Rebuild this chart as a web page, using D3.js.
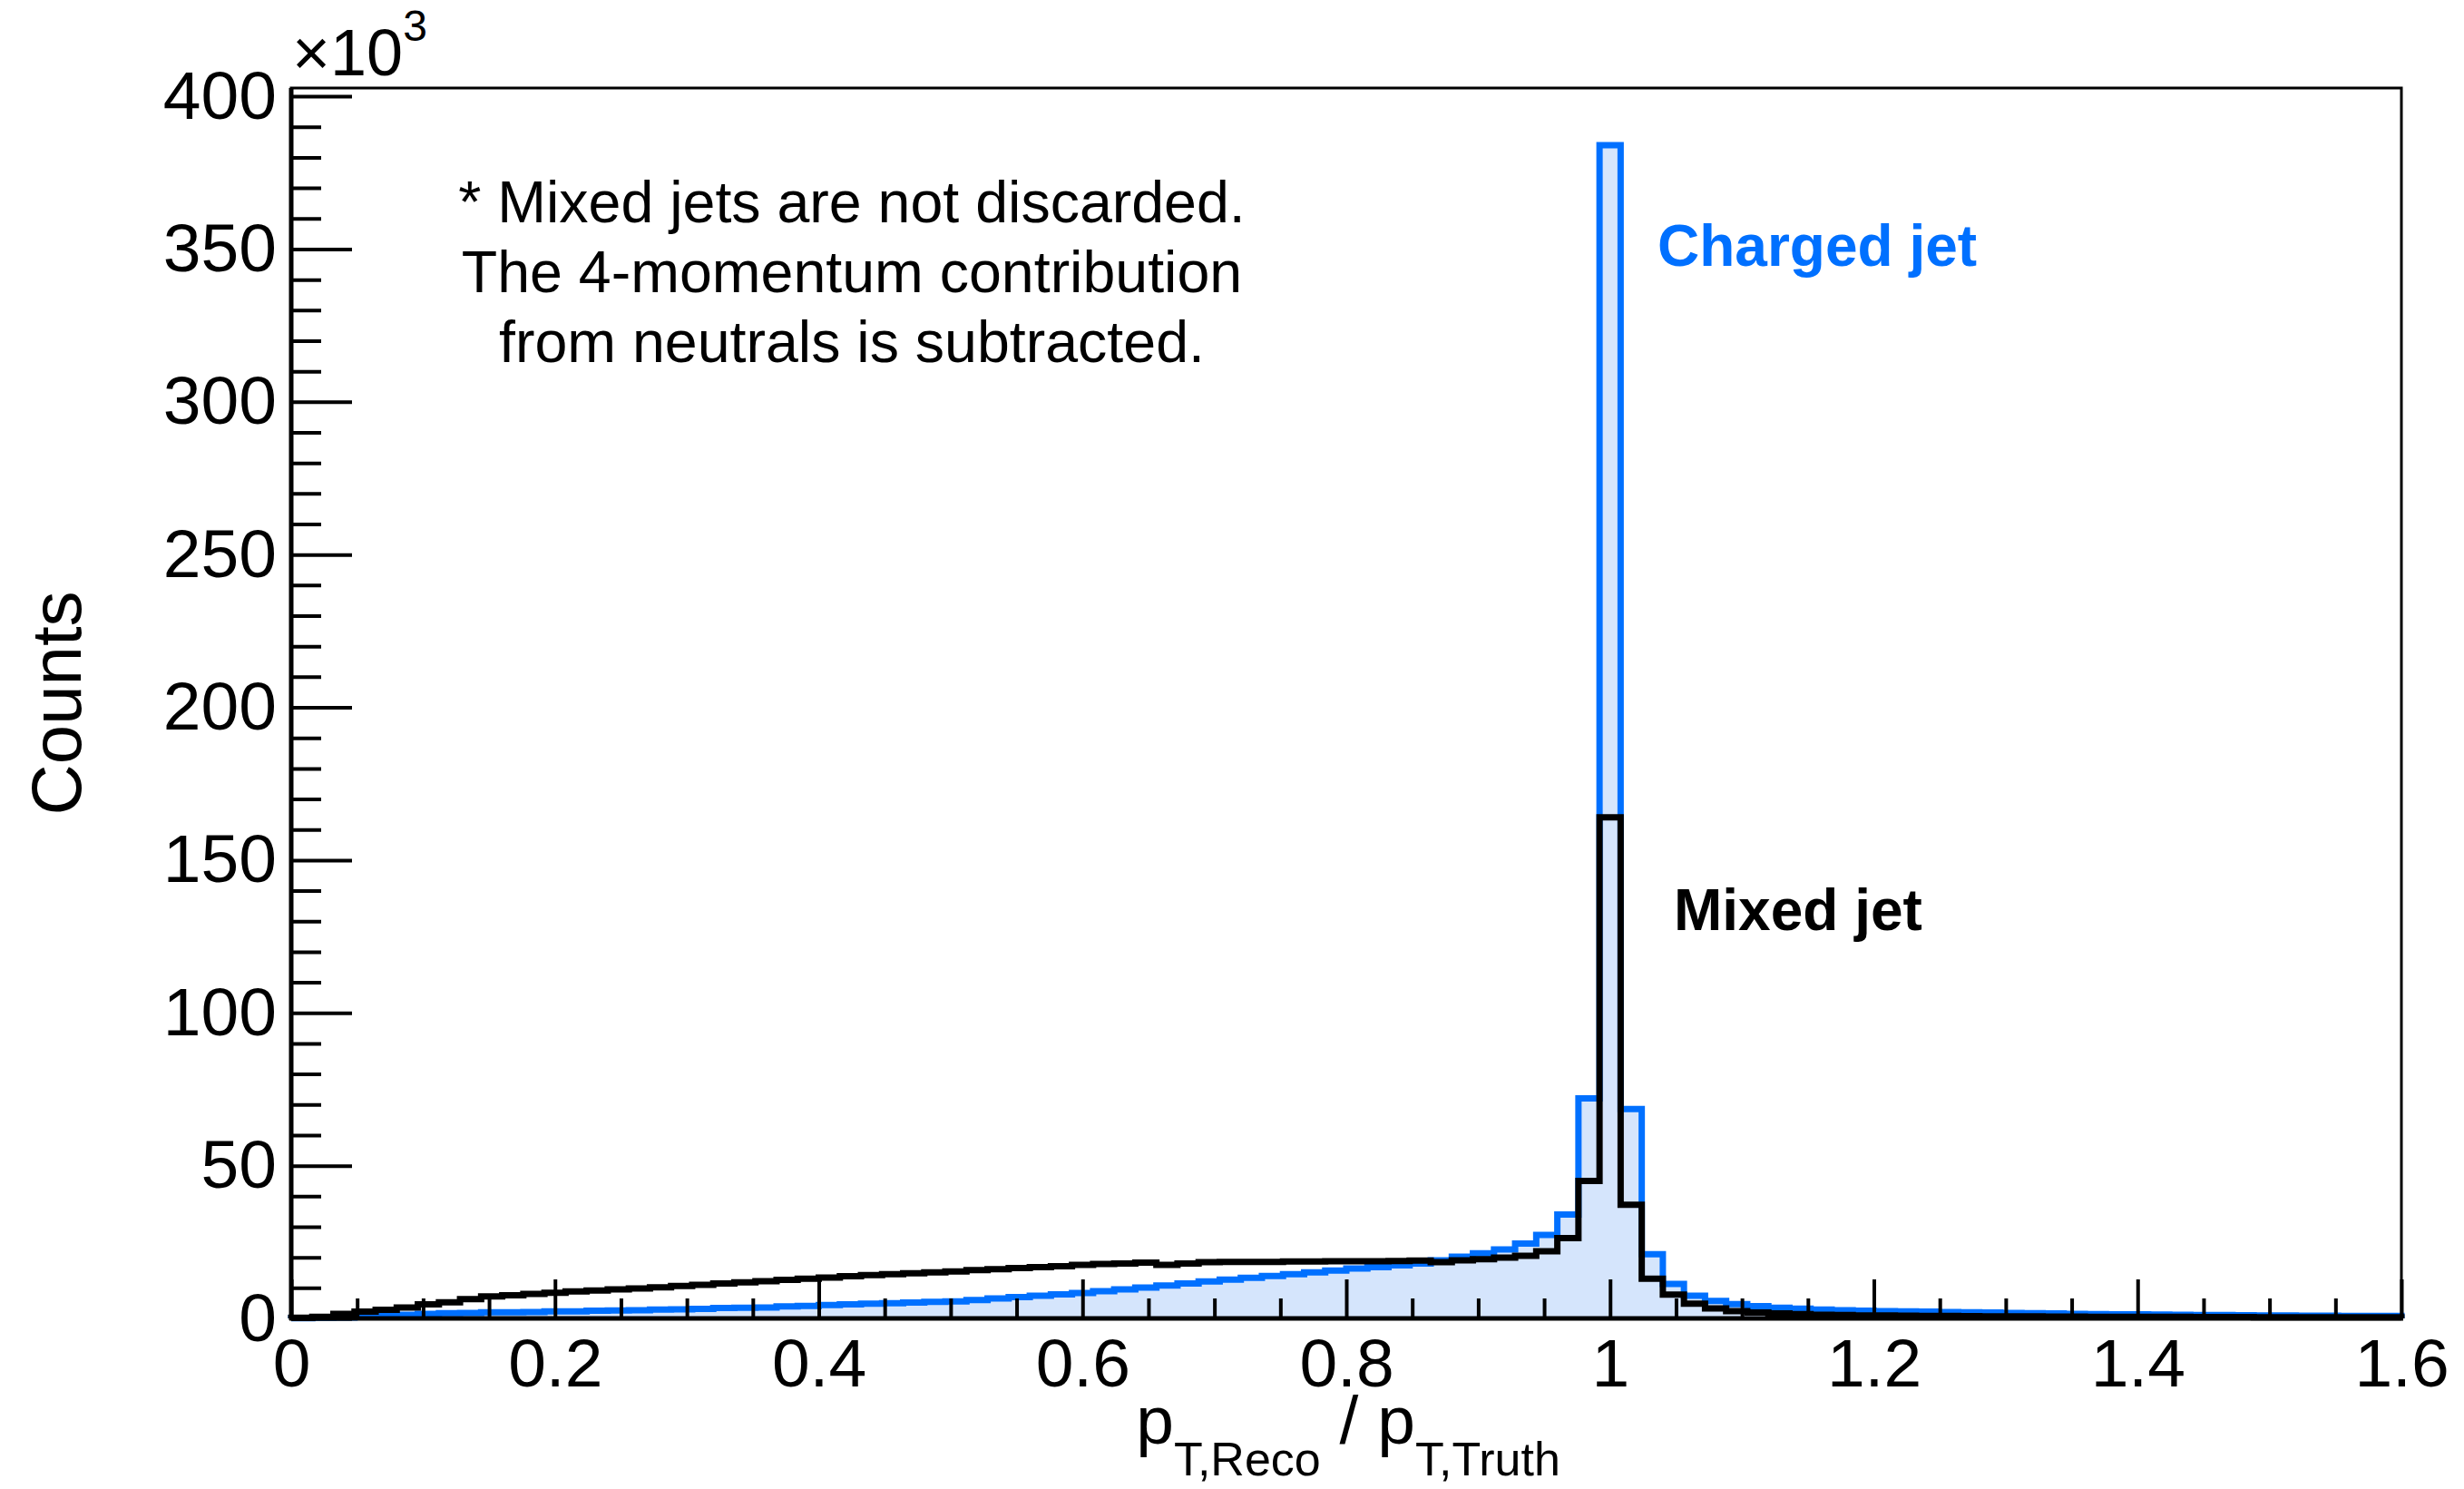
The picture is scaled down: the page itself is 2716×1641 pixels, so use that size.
<!DOCTYPE html>
<html><head><meta charset="utf-8">
<script src="https://cdn.jsdelivr.net/npm/d3@7"></script>
<style>html,body{margin:0;padding:0;background:#fff;} svg{display:block;}</style>
</head><body>
<script>
// ---- data (counts in units of 10^3), 100 bins of width 0.016 from 0 to 1.6 ----
const binStart = 0;
const binWidth = 0.016;
const chargedJet = [
  0.1,0.2,0.3,0.5,0.8,1.2,1.5,1.7,1.8,2.0,
  2.0,2.1,2.3,2.3,2.5,2.6,2.7,2.9,3.0,3.1,
  3.4,3.5,3.6,3.9,4.1,4.4,4.6,4.8,5.0,5.2,
  5.4,5.6,6.0,6.5,7.0,7.4,7.9,8.3,8.9,9.5,
  10.1,10.8,11.4,12.1,12.7,13.3,13.9,14.5,15.1,15.7,
  16.3,16.8,17.4,18.0,19.0,20.2,21.3,22.6,24.5,27.3,
  34.0,72.0,384.0,68.5,21.0,11.3,7.4,5.7,4.7,4.0,
  3.5,3.2,2.9,2.7,2.5,2.4,2.3,2.2,2.1,2.0,
  1.9,1.8,1.7,1.6,1.5,1.4,1.35,1.3,1.25,1.2,
  1.15,1.1,1.05,1.0,0.95,0.9,0.9,0.85,0.8,0.8
];
const mixedJet = [
  0.2,0.5,1.5,2.2,2.8,3.6,4.6,5.3,6.3,7.2,
  7.6,8.0,8.4,8.8,9.1,9.5,9.8,10.2,10.6,11.0,
  11.4,11.8,12.2,12.6,13.0,13.4,13.8,14.2,14.5,14.8,
  15.1,15.4,15.8,16.1,16.5,16.8,17.1,17.5,17.8,18.0,
  18.3,17.5,18.0,18.4,18.5,18.5,18.5,18.6,18.6,18.7,
  18.7,18.7,18.8,18.9,18.4,19.0,19.4,19.9,20.5,22.0,
  26.3,45.0,164.0,37.2,13.0,7.8,4.8,3.3,2.4,1.9,
  1.6,1.4,1.2,1.1,1.0,0.95,0.9,0.85,0.8,0.75,
  0.7,0.7,0.65,0.6,0.6,0.55,0.55,0.5,0.5,0.5,
  0.45,0.45,0.45,0.4,0.4,0.4,0.4,0.35,0.35,0.35
];
const xTickValues = [0,0.2,0.4,0.6,0.8,1.0,1.2,1.4,1.6];
const xTickLabels = ["0","0.2","0.4","0.6","0.8","1","1.2","1.4","1.6"];
const xMinorStep = 0.05;
const yTickValues = [0,50,100,150,200,250,300,350,400];
const yTickLabels = ["0","50","100","150","200","250","300","350","400"];
const yMinorStep = 10;
const noteLines = ["* Mixed jets are not discarded.","The 4-momentum contribution","from neutrals is subtracted."];
const seriesLabels = ["Charged jet","Mixed jet"];

// ---- layout ----
const W = 2716, H = 1641;
const L = 321, R = 2647, T = 97, B = 1453;
const FONT = "'Liberation Sans', Arial, Helvetica, sans-serif";
const BLUE = "#0070ff", FILL = "#d5e5fc";

const svg = d3.select("body").append("svg").attr("width", W).attr("height", H)
  .style("font-family", FONT);
svg.append("rect").attr("width", W).attr("height", H).attr("fill", "#fff");

const x = d3.scaleLinear().domain([0, 1.6]).range([L, R]);
const y = d3.scaleLinear().domain([0, 402.7]).range([B, T]);

function stepPoints(vals) {
  const pts = [[binStart, 0]];
  vals.forEach((v, i) => {
    const lo = binStart + i * binWidth, hi = lo + binWidth;
    pts.push([lo, v], [hi, v]);
  });
  pts.push([binStart + vals.length * binWidth, 0]);
  return pts;
}
const line = d3.line().x(d => x(d[0])).y(d => y(d[1]));
const area = d3.area().x(d => x(d[0])).y0(y(0)).y1(d => y(d[1]));

const cPts = stepPoints(chargedJet), mPts = stepPoints(mixedJet);
svg.append("path").attr("d", area(cPts)).attr("fill", FILL);
svg.append("path").attr("d", line(cPts)).attr("fill", "none")
  .attr("stroke", BLUE).attr("stroke-width", 7).attr("stroke-linejoin", "miter");
svg.append("path").attr("d", line(mPts)).attr("fill", "none")
  .attr("stroke", "#000").attr("stroke-width", 7).attr("stroke-linejoin", "miter");

// ---- axes ----
const xMinor = d3.range(0, 1.6 + 1e-9, xMinorStep).filter(v => !xTickValues.some(t => Math.abs(t - v) < 1e-6));
const yMinor = d3.range(0, 400 + 1e-9, yMinorStep).filter(v => !yTickValues.some(t => Math.abs(t - v) < 1e-6));

const gx = svg.append("g").attr("transform", `translate(0,${B})`)
  .call(d3.axisBottom(x).tickValues(xTickValues).tickFormat((d, i) => xTickLabels[i])
    .tickSizeInner(-43).tickSizeOuter(0).tickPadding(22));
const gxm = svg.append("g").attr("transform", `translate(0,${B})`)
  .call(d3.axisBottom(x).tickValues(xMinor).tickFormat("").tickSizeInner(-22).tickSizeOuter(0));
const gy = svg.append("g").attr("transform", `translate(${L},0)`)
  .call(d3.axisLeft(y).tickValues(yTickValues).tickFormat((d, i) => yTickLabels[i])
    .tickSizeInner(-67).tickSizeOuter(0).tickPadding(16));
const gym = svg.append("g").attr("transform", `translate(${L},0)`)
  .call(d3.axisLeft(y).tickValues(yMinor).tickFormat("").tickSizeInner(-33).tickSizeOuter(0));

[gx, gxm, gy, gym].forEach(g => {
  g.select(".domain").remove();
  g.selectAll(".tick line").attr("stroke", "#000").attr("stroke-width", 4);
  g.selectAll("text").attr("fill", "#000").style("font-family", FONT).style("font-size", "75px");
});

// frame
svg.append("rect").attr("x", L).attr("y", T).attr("width", R - L).attr("height", B - T)
  .attr("fill", "none").attr("stroke", "#000").attr("stroke-width", 3);
svg.append("line").attr("x1", L).attr("x2", L).attr("y1", T).attr("y2", B + 2)
  .attr("stroke", "#000").attr("stroke-width", 5);
svg.append("line").attr("x1", L - 2).attr("x2", R + 2).attr("y1", B).attr("y2", B)
  .attr("stroke", "#000").attr("stroke-width", 5);

// exponent label
const ex = svg.append("text").attr("x", 322).attr("y", 83).style("font-size", "72px").attr("fill", "#000");
ex.append("tspan").text("×10");
ex.append("tspan").attr("dy", -38).style("font-size", "48px").text("3");

// axis titles
const xt = svg.append("text").attr("x", 1486).attr("y", 1591).attr("text-anchor", "middle")
  .style("font-size", "75px").attr("fill", "#000");
xt.append("tspan").text("p");
xt.append("tspan").attr("dy", 35).style("font-size", "52px").text("T,Reco");
xt.append("tspan").attr("dy", -35).text(" / p");
xt.append("tspan").attr("dy", 35).style("font-size", "52px").text("T,Truth");

svg.append("text").attr("transform", "translate(89,775) rotate(-90)").attr("text-anchor", "middle")
  .style("font-size", "78px").attr("fill", "#000").text("Counts");

// note
svg.append("g").selectAll("text").data(noteLines).join("text")
  .attr("x", 939).attr("y", (d, i) => 245 + i * 77).attr("text-anchor", "middle")
  .style("font-size", "64.5px").attr("fill", "#000").text(d => d);

// series labels
svg.append("text").attr("x", 1827).attr("y", 293).style("font-size", "64px").style("font-weight", "bold")
  .attr("fill", BLUE).text(seriesLabels[0]);
svg.append("text").attr("x", 1845).attr("y", 1025).style("font-size", "64px").style("font-weight", "bold")
  .attr("fill", "#000").text(seriesLabels[1]);
</script>
</body></html>
